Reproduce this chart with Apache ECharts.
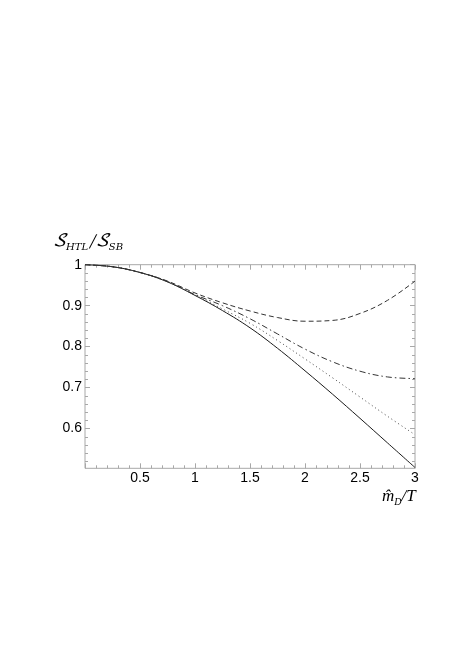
<!DOCTYPE html>
<html>
<head>
<meta charset="utf-8">
<script src="https://cdn.jsdelivr.net/npm/echarts@6/dist/echarts.min.js"></script>
<style>
html,body{margin:0;padding:0;background:#fff;}
#chart{width:463px;height:654px;}
</style>
</head>
<body>
<div id="chart"></div>
<script>
const xValues = [0, 0.25, 0.5, 0.75, 1, 1.25, 1.5, 1.75, 2, 2.25, 2.5, 2.75, 3];
const solidSeries = [1, 0.995, 0.981, 0.958, 0.925, 0.888, 0.846, 0.796, 0.741, 0.684, 0.625, 0.565, 0.505];
const dottedSeries = [1, 0.995, 0.981, 0.958, 0.926, 0.892, 0.857, 0.815, 0.770, 0.724, 0.677, 0.630, 0.585];
const dashDotSeries = [1, 0.995, 0.981, 0.959, 0.927, 0.900, 0.868, 0.831, 0.794, 0.763, 0.740, 0.726, 0.722];
const dashedSeries = [1, 0.995, 0.981, 0.960, 0.931, 0.907, 0.887, 0.871, 0.862, 0.864, 0.881, 0.913, 0.960];
const yMajorTicks = [0.6, 0.7, 0.8, 0.9, 1];
const yMinorTicks = [0.52,0.54,0.56,0.58,0.62,0.64,0.66,0.68,0.72,0.74,0.76,0.78,0.82,0.84,0.86,0.88,0.92,0.94,0.96,0.98];
const yTickLabels = ['0.6', '0.7', '0.8', '0.9', '1'];
const yMin = 0.503, yMax = 1;

const pairs = arr => xValues.map((x, i) => [x, arr[i]]);
const frameColor = '#a8a8a8';
const font = 'Liberation Sans, Arial, sans-serif';

function yAxisDef(pos, vals, len, labels) {
  return {
    type: 'value', min: yMin, max: yMax, position: pos,
    axisLine: {show: false}, splitLine: {show: false},
    axisTick: {show: true, inside: true, length: len, customValues: vals, lineStyle: {color: frameColor, width: 1}},
    axisLabel: labels ? {show: true, customValues: vals, margin: 3, color: '#000', fontSize: 14, fontFamily: font,
      formatter: v => yTickLabels[yMajorTicks.findIndex(t => Math.abs(t - v) < 1e-6)] || ''} : {show: false}
  };
}
function xAxisDef(pos, labels) {
  return {
    type: 'value', min: 0, max: 3, interval: 0.5, position: pos,
    axisLine: {show: false}, splitLine: {show: false}, minorSplitLine: {show: false},
    axisTick: {show: true, inside: true, length: 5, lineStyle: {color: frameColor, width: 1}},
    minorTick: {show: true, splitNumber: 5, length: 3, lineStyle: {color: frameColor, width: 1}},
    axisLabel: labels ? {show: true, margin: 3, color: '#000', fontSize: 14, fontFamily: font,
      formatter: v => v === 0 ? '' : String(v)} : {show: false}
  };
}

const chart = echarts.init(document.getElementById('chart'), null, {renderer: 'canvas'});
const lineBase = {type: 'line', smooth: 0.4, showSymbol: false, symbol: 'none', xAxisIndex: 0, yAxisIndex: 0, animation: false};
chart.setOption({
  backgroundColor: '#fff',
  animation: false,
  grid: {left: 85, right: 48, top: 264.7, bottom: 185.7, show: true, borderColor: frameColor, borderWidth: 1, backgroundColor: 'transparent'},
  xAxis: [xAxisDef('bottom', true), xAxisDef('top', false)],
  yAxis: [
    yAxisDef('left', yMajorTicks, 5, true),
    yAxisDef('left', yMinorTicks, 3, false),
    yAxisDef('right', yMajorTicks, 5, false),
    yAxisDef('right', yMinorTicks, 3, false)
  ],
  series: [
    Object.assign({}, lineBase, {name: 'full', data: pairs(solidSeries), lineStyle: {color: '#1a1a1a', width: 1, type: 'solid'}}),
    Object.assign({}, lineBase, {name: 'dotted', data: pairs(dottedSeries), lineStyle: {color: '#444', width: 1, type: [1, 3]}}),
    Object.assign({}, lineBase, {name: 'dashdot', data: pairs(dashDotSeries), lineStyle: {color: '#333', width: 1, type: [6, 3, 1.5, 3]}}),
    Object.assign({}, lineBase, {name: 'dashed', data: pairs(dashedSeries), lineStyle: {color: '#333', width: 1, type: [5, 3]}})
  ],
  graphic: [
    {type: 'text', left: 53, top: 233, style: {
      text: '{s|𝒮}{sub|HTL}{s|/𝒮}{sub|SB}',
      rich: {
        s: {fontSize: 17, fontFamily: 'DejaVu Math TeX Gyre, DejaVu Serif, serif', fontStyle: 'italic', fill: '#000', verticalAlign: 'bottom'},
        sub: {fontSize: 10, fontFamily: 'DejaVu Serif, Liberation Serif, serif', fontStyle: 'italic', fill: '#000', verticalAlign: 'bottom', padding: [0, 0, -2, 0]}
      }
    }},
    {type: 'text', left: 382, top: 488, style: {
      text: '{s|m̂}{sub|D}{s|/T}',
      rich: {
        s: {fontSize: 17, fontFamily: 'Liberation Serif, DejaVu Serif, serif', fontStyle: 'italic', fill: '#000', verticalAlign: 'bottom'},
        sub: {fontSize: 10, fontFamily: 'Liberation Serif, DejaVu Serif, serif', fontStyle: 'italic', fill: '#000', verticalAlign: 'bottom', padding: [0, 0, -2, 0]}
      }
    }}
  ]
});
</script>
</body>
</html>
